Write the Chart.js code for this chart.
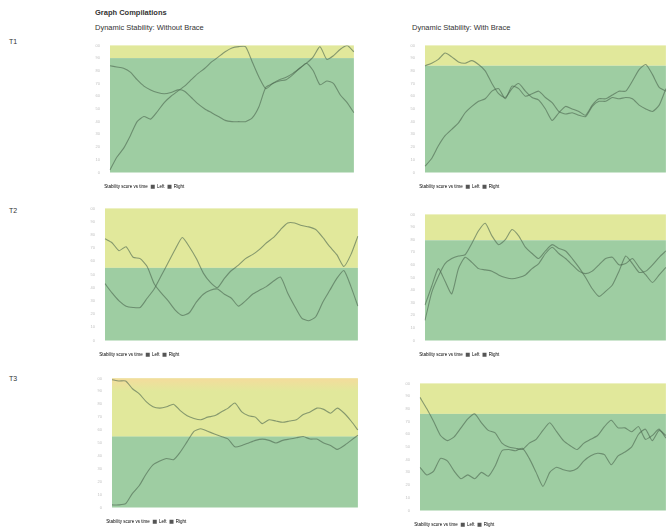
<!DOCTYPE html>
<html>
<head>
<meta charset="utf-8">
<script src="https://cdn.jsdelivr.net/npm/chart.js@4.4.0/dist/chart.umd.min.js"></script>
<style>
  body { margin: 0; width: 666px; height: 527px; overflow: hidden; background: #fff;
         font-family: "Liberation Sans", Arial, sans-serif; position: relative; }
  .txt { position: absolute; color: #333; white-space: nowrap; line-height: 1; }
  .box { position: absolute; }
</style>
</head>
<body>
<div class="txt" style="left:95px;top:9px;font-size:7.5px;font-weight:bold;">Graph Compilations</div>
<div class="txt" style="left:95px;top:24px;font-size:7.5px;">Dynamic Stability: Without Brace</div>
<div class="txt" style="left:412px;top:24px;font-size:7.5px;">Dynamic Stability: With Brace</div>
<div class="txt" style="left:9px;top:38px;font-size:7px;">T1</div>
<div class="txt" style="left:9px;top:207px;font-size:7px;">T2</div>
<div class="txt" style="left:9px;top:375px;font-size:7px;">T3</div>

<div class="box" style="left:95px;top:41px;width:261px;height:158px;"><canvas id="t1without"></canvas></div>
<div class="box" style="left:410px;top:41px;width:258px;height:158px;"><canvas id="t1with"></canvas></div>
<div class="box" style="left:90px;top:204px;width:270px;height:163px;"><canvas id="t2without"></canvas></div>
<div class="box" style="left:410px;top:210px;width:258px;height:157px;"><canvas id="t2with"></canvas></div>
<div class="box" style="left:97px;top:374px;width:263px;height:160px;"><canvas id="t3without"></canvas></div>
<div class="box" style="left:405px;top:379px;width:263px;height:158px;"><canvas id="t3with"></canvas></div>

<script>
// time axis (s)
var timeLabels = ['0', '0.25', '0.5', '0.75', '1', '1.25', '1.5', '1.75', '2', '2.25', '2.5', '2.75',
  '3', '3.25', '3.5', '3.75', '4', '4.25', '4.5', '4.75', '5', '5.25', '5.5', '5.75', '6', '6.25',
  '6.5', '6.75', '7', '7.25', '7.5', '7.75', '8', '8.25', '8.5', '8.75', '9'];

var legendNames = ['Stability score vs time', 'Left', 'Right'];

// T1
var t1WithoutLeft = [2, 12, 19, 29, 40, 44, 42, 48, 55, 60, 64, 68, 73, 78, 82, 87, 91, 95, 98, 99, 99, 87, 75, 66, 70, 73, 75, 78, 82, 86, 91, 99, 89, 92, 97, 100, 95];
var t1WithoutRight = [84, 83, 82, 79, 73, 68, 65, 63, 62, 63, 65, 64, 59, 54, 50, 47, 44, 41, 40, 40, 40, 43, 52, 67, 70, 72, 73, 77, 82, 86, 80, 69, 72, 70, 61, 55, 47];
var t1WithLeft = [84, 86, 89, 94, 91, 87, 86, 88, 85, 80, 70, 62, 59, 66, 70, 64, 59, 57, 50, 41, 47, 52, 50, 48, 45, 53, 58, 58, 61, 64, 64, 72, 81, 85, 77, 67, 64];
var t1WithRight = [5, 11, 21, 29, 34, 39, 47, 52, 56, 58, 64, 66, 58, 68, 66, 60, 62, 64, 59, 55, 48, 46, 47, 45, 44, 52, 56, 56, 59, 58, 59, 58, 53, 50, 48, 53, 66];

// T2
var t2WithoutLeft = [77, 74, 68, 71, 63, 62, 56, 43, 36, 30, 23, 19, 21, 29, 35, 38, 39, 35, 32, 26, 30, 35, 38, 41, 45, 48, 36, 26, 17, 15, 18, 29, 38, 47, 53, 41, 26];
var t2WithoutRight = [43, 36, 30, 26, 25, 25, 32, 39, 49, 59, 69, 78, 71, 62, 51, 44, 40, 47, 53, 57, 62, 65, 69, 74, 78, 84, 89, 89, 87, 86, 84, 78, 71, 65, 56, 65, 79];
var t2WithLeft = [16, 38, 51, 61, 65, 67, 68, 77, 87, 93, 83, 76, 80, 88, 83, 74, 69, 65, 71, 76, 73, 71, 65, 58, 50, 41, 35, 39, 44, 55, 67, 61, 54, 55, 60, 66, 71];
var t2WithRight = [28, 43, 57, 47, 37, 57, 66, 62, 57, 56, 55, 52, 50, 49, 50, 52, 57, 61, 69, 74, 69, 65, 60, 55, 53, 55, 60, 65, 66, 60, 61, 65, 58, 52, 46, 52, 58];

// T3
var t3WithoutLeft = [99, 98, 98, 92, 88, 82, 78, 77, 78, 80, 75, 71, 69, 68, 70, 71, 74, 77, 81, 74, 71, 70, 65, 68, 67, 66, 67, 68, 72, 74, 77, 76, 73, 77, 73, 67, 60];
var t3WithoutRight = [2, 2, 3, 11, 17, 26, 33, 36, 38, 37, 43, 51, 59, 61, 59, 57, 55, 53, 47, 48, 50, 52, 53, 52, 50, 52, 53, 54, 55, 53, 53, 50, 48, 45, 48, 52, 56];
var t3WithLeft = [89, 80, 70, 59, 55, 58, 65, 72, 76, 69, 63, 61, 53, 50, 49, 48, 53, 56, 63, 69, 62, 55, 51, 48, 53, 56, 59, 66, 71, 65, 65, 62, 66, 56, 59, 64, 57];
var t3WithRight = [34, 28, 31, 41, 39, 31, 25, 28, 25, 30, 27, 35, 47, 48, 47, 49, 41, 30, 19, 30, 34, 32, 31, 33, 39, 43, 45, 44, 36, 43, 46, 50, 60, 64, 55, 63, 59];

// score where the green zone ends and the yellow one starts
var stableLimit = [90, 84, 55, 79.5, 55, 76];

var yellow = '#e1e89b';
var green = '#9ecda2';
var orange = '#f4dc9c';
var lineColor = 'rgba(78, 104, 80, 0.62)';

var zonePlugin = {
    id: 'zones',
    beforeDatasetsDraw: function(chart, args, opts) {
        var ctx = chart.ctx, a = chart.chartArea, y = chart.scales.y;
        var limit = y.getPixelForValue(opts.limit);
        ctx.save();
        ctx.fillStyle = yellow;
        ctx.fillRect(a.left, a.top, a.right - a.left, limit - a.top);
        if (opts.warm) {
            var g = ctx.createLinearGradient(0, a.top, 0, limit);
            g.addColorStop(0, orange);
            g.addColorStop(0.22, yellow);
            g.addColorStop(1, yellow);
            ctx.fillStyle = g;
            ctx.fillRect(a.left, a.top, a.right - a.left, limit - a.top);
        }
        ctx.fillStyle = green;
        ctx.fillRect(a.left, limit, a.right - a.left, a.bottom - limit);
        ctx.restore();
    }
};

function makeChart(id, left, right, limit, warm) {
    new Chart(document.getElementById(id), {
        type: 'line',
        data: {
            labels: timeLabels,
            datasets: [
                { label: legendNames[1], data: left },
                { label: legendNames[2], data: right }
            ]
        },
        options: {
            responsive: true,
            maintainAspectRatio: false,
            animation: false,
            layout: { padding: { top: 3, right: 0, left: 0, bottom: 0 } },
            elements: {
                line: { borderColor: lineColor, borderWidth: 1.1, tension: 0.2 },
                point: { radius: 0 }
            },
            scales: {
                x: {
                    grid: { display: false },
                    border: { display: false },
                    afterFit: function(s) { s.height = 9; },
                    ticks: {
                        autoSkip: false, maxRotation: 0, padding: 1,
                        color: '#b5b5b5', font: { size: 4 },
                        callback: function(v, i) { return i % 4 === 0 ? timeLabels[i] : ''; }
                    }
                },
                y: {
                    min: 0, max: 100,
                    grid: { display: false },
                    border: { display: false },
                    afterFit: function(s) { s.width = 15; },
                    ticks: { stepSize: 10, padding: 2, color: '#c2c2c2', font: { size: 4 } }
                }
            },
            plugins: {
                zones: { limit: limit, warm: warm },
                tooltip: { enabled: false },
                legend: {
                    position: 'bottom',
                    align: 'start',
                    labels: {
                        boxWidth: 4, boxHeight: 4, padding: 3,
                        color: '#a8a8a8', font: { size: 4.5 },
                        generateLabels: function() {
                            return legendNames.map(function(n, i) {
                                return {
                                    text: n,
                                    fillStyle: i === 0 ? 'rgba(0,0,0,0)' : '#555',
                                    strokeStyle: i === 0 ? 'rgba(0,0,0,0)' : '#555',
                                    lineWidth: 0,
                                    datasetIndex: i - 1
                                };
                            });
                        }
                    }
                }
            }
        },
        plugins: [zonePlugin]
    });
}

makeChart('t1without', t1WithoutLeft, t1WithoutRight, stableLimit[0], false);
makeChart('t1with', t1WithLeft, t1WithRight, stableLimit[1], false);
makeChart('t2without', t2WithoutLeft, t2WithoutRight, stableLimit[2], false);
makeChart('t2with', t2WithLeft, t2WithRight, stableLimit[3], false);
makeChart('t3without', t3WithoutLeft, t3WithoutRight, stableLimit[4], true);
makeChart('t3with', t3WithLeft, t3WithRight, stableLimit[5], false);
</script>
</body>
</html>
